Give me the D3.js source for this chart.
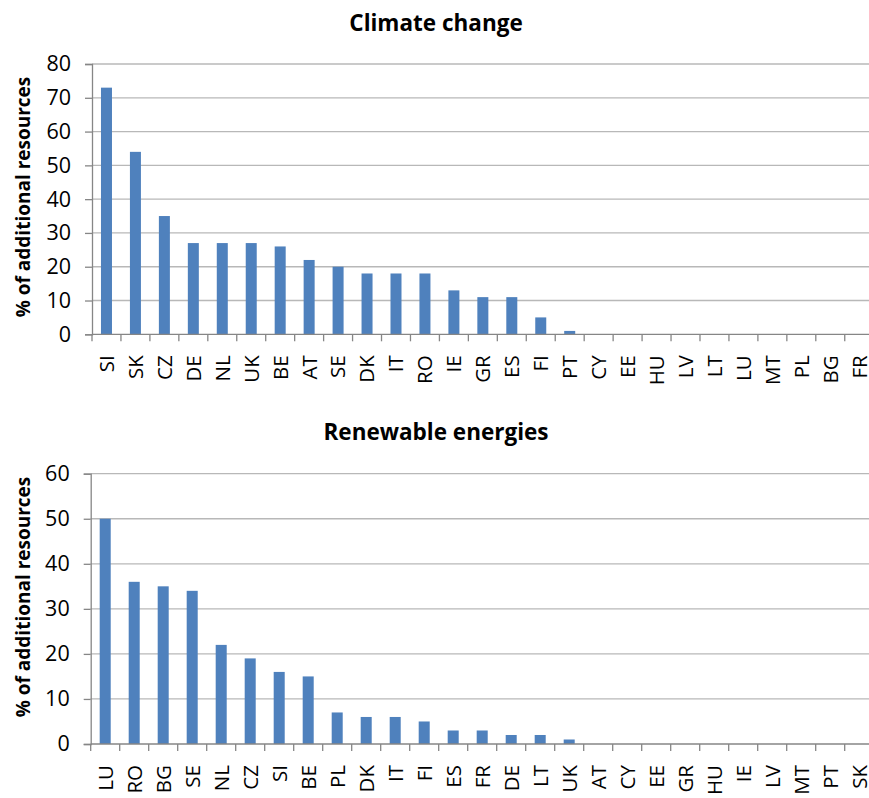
<!DOCTYPE html>
<html>
<head>
<meta charset="utf-8">
<script src="https://cdn.jsdelivr.net/npm/d3@7"></script>
<style>
  html, body { margin: 0; padding: 0; background: #fff; }
  svg { display: block; }
  text { font-family: "Open Sans", "Liberation Sans", sans-serif; fill: #000; }
</style>
</head>
<body>
<svg id="chart" width="869" height="798"></svg>
<script>
// Share of additional resources by member state
const climateCountries = ["SI","SK","CZ","DE","NL","UK","BE","AT","SE","DK","IT","RO","IE","GR","ES","FI","PT","CY","EE","HU","LV","LT","LU","MT","PL","BG","FR"];
const climateValues    = [73, 54, 35, 27, 27, 27, 26, 22, 20, 18, 18, 18, 13, 11, 11, 5, 1, 0, 0, 0, 0, 0, 0, 0, 0, 0, 0];
const climateTicks     = [0, 10, 20, 30, 40, 50, 60, 70, 80];

const renewCountries = ["LU","RO","BG","SE","NL","CZ","SI","BE","PL","DK","IT","FI","ES","FR","DE","LT","UK","AT","CY","EE","GR","HU","IE","LV","MT","PT","SK"];
const renewValues    = [50, 36, 35, 34, 22, 19, 16, 15, 7, 6, 6, 5, 3, 3, 2, 2, 1, 0, 0, 0, 0, 0, 0, 0, 0, 0, 0];
const renewTicks     = [0, 10, 20, 30, 40, 50, 60];

const svg = d3.select("#chart");

function drawPanel(opts) {
  const { title, countries, values, ticks, left, right, top, bottom, titleY, axisTitleY } = opts;
  const g = svg.append("g");

  const x = d3.scaleBand()
    .domain(countries)
    .range([left, right])
    .paddingInner(0.62)
    .paddingOuter(0.31);

  const y = d3.scaleLinear()
    .domain([0, d3.max(ticks)])
    .range([bottom, top]);

  // horizontal gridlines
  g.append("g")
    .selectAll("line")
    .data(ticks.filter(t => t > 0))
    .join("line")
    .attr("x1", left).attr("x2", right)
    .attr("y1", d => y(d)).attr("y2", d => y(d))
    .attr("stroke", "#b8b8b8").attr("stroke-width", 1.3);

  // bars
  g.append("g")
    .selectAll("rect")
    .data(countries.map((c, i) => ({ c, v: values[i] })))
    .join("rect")
    .attr("x", d => x(d.c))
    .attr("width", x.bandwidth())
    .attr("y", d => y(d.v))
    .attr("height", d => y(0) - y(d.v))
    .attr("fill", "#4f81bd");

  // y axis
  const yAxis = d3.axisLeft(y).tickValues(ticks).tickSize(7).tickPadding(14);
  const ya = g.append("g").attr("transform", `translate(${left},0)`).call(yAxis);
  ya.select(".domain").attr("stroke", "#868686").attr("stroke-width", 1.3);
  ya.selectAll(".tick line").attr("stroke", "#868686").attr("stroke-width", 1.3);
  ya.selectAll(".tick text")
    .attr("font-size", 21.5)
    .attr("font-family", "\"Open Sans\", sans-serif")
    .attr("fill", "#1a1a1a");

  // x axis baseline with ticks between categories
  const step = x.step();
  g.append("line")
    .attr("x1", left).attr("x2", right)
    .attr("y1", bottom).attr("y2", bottom)
    .attr("stroke", "#868686").attr("stroke-width", 1.3);
  g.append("g")
    .selectAll("line")
    .data(d3.range(countries.length + 1))
    .join("line")
    .attr("x1", i => left + i * step).attr("x2", i => left + i * step)
    .attr("y1", bottom).attr("y2", bottom + 7)
    .attr("stroke", "#868686").attr("stroke-width", 1.3);

  // rotated category labels
  g.append("g")
    .selectAll("text")
    .data(countries)
    .join("text")
    .attr("transform", d => `translate(${x(d) + x.bandwidth() / 2},${bottom + 21}) rotate(-90)`)
    .attr("text-anchor", "end")
    .attr("dy", "0.36em")
    .attr("font-size", 20.5)
    .attr("fill", "#1a1a1a")
    .text(d => d);

  // title
  g.append("text")
    .attr("x", 436).attr("y", titleY)
    .attr("text-anchor", "middle")
    .attr("font-size", 22.5)
    .attr("font-weight", "bold")
    .text(title);

  // y axis title
  g.append("text")
    .attr("transform", `translate(30,${axisTitleY}) rotate(-90)`)
    .attr("text-anchor", "middle")
    .attr("font-size", 19)
    .attr("font-weight", "bold")
    .text("% of additional resources");
}

drawPanel({
  title: "Climate change",
  countries: climateCountries, values: climateValues, ticks: climateTicks,
  left: 92, right: 873.7, top: 64, bottom: 334.3, titleY: 31, axisTitleY: 197
});

drawPanel({
  title: "Renewable energies",
  countries: renewCountries, values: renewValues, ticks: renewTicks,
  left: 90.7, right: 873.7, top: 473.7, bottom: 744, titleY: 440, axisTitleY: 597
});
</script>
</body>
</html>
